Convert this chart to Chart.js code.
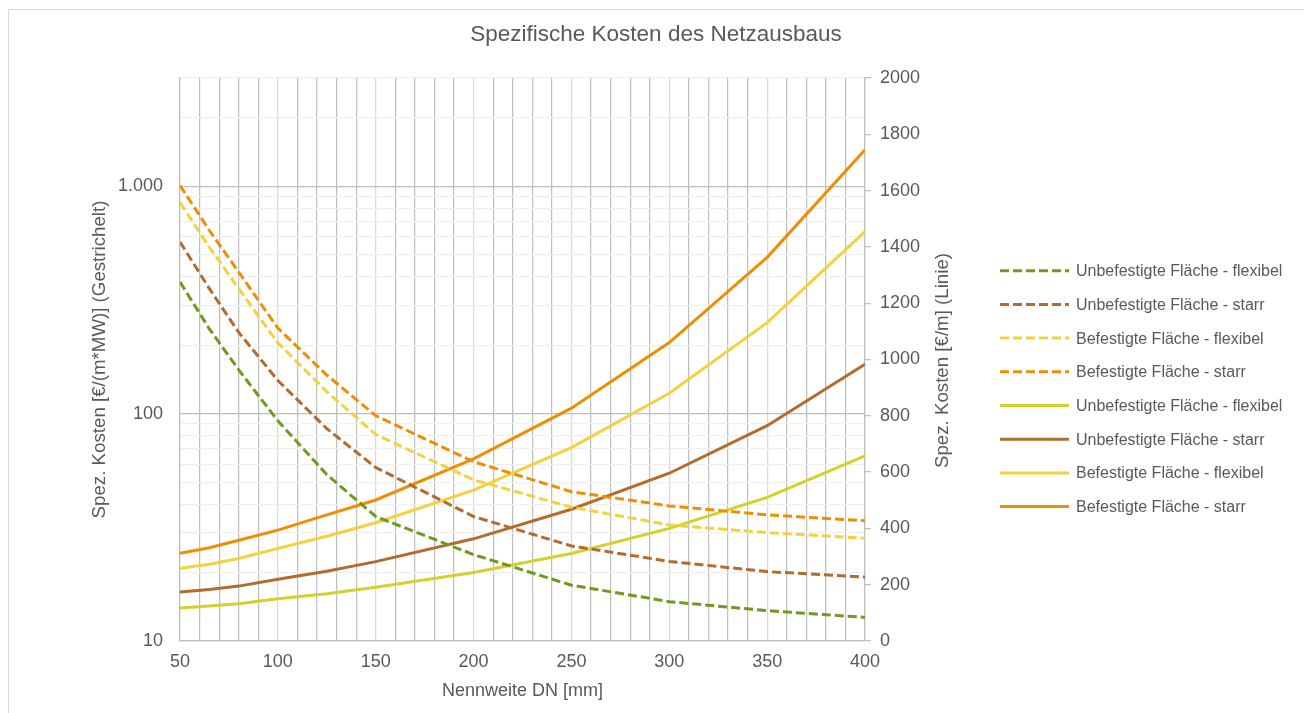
<!DOCTYPE html>
<html lang="de">
<head>
<meta charset="utf-8">
<title>Spezifische Kosten des Netzausbaus</title>
<script src="https://cdn.jsdelivr.net/npm/chart.js@4.4.1/dist/chart.umd.min.js"></script>
<style>
  html, body { margin: 0; padding: 0; background: #ffffff; }
  #wrap { width: 1304px; height: 713px; }
</style>
</head>
<body>
<div id="wrap"><canvas id="c" width="1304" height="713"></canvas></div>
<script>
// Nennweiten (x) in mm
const DN = [50, 65, 80, 100, 125, 150, 200, 250, 300, 350, 400];

// Spezifische Kosten je Leistung [€/(m*MW)] – gestrichelt, linke (log) Achse
const unbefFlexMW  = [380, 236, 156, 93, 54, 35.3, 24.0, 17.6, 14.9, 13.6, 12.7];
const unbefStarrMW = [570, 355, 228, 140, 86, 58, 35.3, 26.2, 22.4, 20.2, 19.1];
const befFlexMW    = [850, 540, 355, 205, 125, 81, 51.2, 38.8, 32.4, 30.0, 28.3];
const befStarrMW   = [1010, 640, 420, 238, 148, 98, 61.5, 45.4, 39.3, 35.9, 33.8];

// Spezifische Kosten je Meter [€/m] – Linie, rechte Achse
const unbefFlexM  = [117, 124, 132, 150, 168, 191, 243, 311, 400, 510, 658];
const unbefStarrM = [174, 183, 195, 219, 248, 282, 363, 468, 596, 765, 983];
const befFlexM    = [258, 273, 293, 329, 372, 420, 536, 687, 880, 1131, 1454];
const befStarrM   = [312, 331, 358, 394, 448, 501, 647, 827, 1060, 1363, 1745];

const seriesNames = [
  'Unbefestigte Fläche - flexibel',
  'Unbefestigte Fläche - starr',
  'Befestigte Fläche - flexibel',
  'Befestigte Fläche - starr'
];

// Achsenbeschriftungen
const logTicks = [10, 20, 30, 40, 50, 60, 70, 80, 90, 100, 200, 300, 400, 500, 600, 700, 800, 900, 1000, 2000, 3000];
const logLabels = { 10: '10', 100: '100', 1000: '1.000' };
const xTicks = [];
for (let v = 50; v <= 400; v += 10) xTicks.push(v);

const COL = {
  green: '#6f9a1f',
  brown: '#b26c2d',
  yellow: '#f3d23f',
  orange: '#ee8f03',
  lime: '#d5d12b'
};
const TEXT = '#595959';
const FONT = "'Liberation Sans', Arial, sans-serif";
const DASH = [9, 4];

const pts = (ys) => DN.map((x, i) => ({ x, y: ys[i] }));

function ds(label, values, color, dashed, axis) {
  return {
    label,
    data: pts(values),
    borderColor: color,
    backgroundColor: color,
    borderWidth: 3,
    borderDash: dashed ? DASH : [],
    pointRadius: 0,
    tension: 0,
    fill: false,
    yAxisID: axis
  };
}

const datasets = [
  ds(seriesNames[0], unbefFlexMW, COL.green, true, 'yL'),
  ds(seriesNames[1], unbefStarrMW, COL.brown, true, 'yL'),
  ds(seriesNames[2], befFlexMW, COL.yellow, true, 'yL'),
  ds(seriesNames[3], befStarrMW, COL.orange, true, 'yL'),
  ds(seriesNames[0], unbefFlexM, COL.lime, false, 'yR'),
  ds(seriesNames[1], unbefStarrM, COL.brown, false, 'yR'),
  ds(seriesNames[2], befFlexM, COL.yellow, false, 'yR'),
  ds(seriesNames[3], befStarrM, COL.orange, false, 'yR')
];

// Rahmen, Titel, Achsentitel und Legende
const decor = {
  id: 'decor',
  beforeDraw(chart) {
    const c = chart.ctx;
    c.save();
    c.fillStyle = '#ffffff';
    c.fillRect(0, 0, chart.width, chart.height);
    c.strokeStyle = '#d9d9d9';
    c.lineWidth = 1;
    c.strokeRect(8.5, 9.5, 1400, 800);
    c.restore();
  },
  afterDraw(chart) {
    const c = chart.ctx;
    const a = chart.chartArea;
    const midY = (a.top + a.bottom) / 2;
    c.save();
    c.fillStyle = TEXT;
    c.textBaseline = 'middle';

    c.font = `22.5px ${FONT}`;
    c.textAlign = 'center';
    c.fillText('Spezifische Kosten des Netzausbaus', 656, 35);

    c.font = `18px ${FONT}`;
    c.fillText('Nennweite DN [mm]', (a.left + a.right) / 2, 691);

    c.font = `18.7px ${FONT}`;
    c.save();
    c.translate(100, midY);
    c.rotate(-Math.PI / 2);
    c.fillText('Spez. Kosten [€/(m*MW)] (Gestrichelt)', 0, 0);
    c.restore();

    c.save();
    c.translate(943, midY + 1);
    c.rotate(-Math.PI / 2);
    c.fillText('Spez. Kosten [€/m] (Linie)', 0, 0);
    c.restore();

    // Legende
    const x0 = 1000, x1 = 1069, y0 = 270.7, step = 33.7;
    c.font = `16px ${FONT}`;
    c.textAlign = 'left';
    chart.data.datasets.forEach((d, i) => {
      const y = y0 + i * step;
      c.save();
      c.strokeStyle = d.borderColor;
      c.lineWidth = 3;
      c.setLineDash(d.borderDash || []);
      c.beginPath();
      c.moveTo(x0, y);
      c.lineTo(x1, y);
      c.stroke();
      c.restore();
      c.fillStyle = TEXT;
      c.fillText(d.label, 1076, y + 1);
    });
    c.restore();
  }
};

const tickFont = { family: FONT, size: 18 };

new Chart(document.getElementById('c'), {
  type: 'line',
  data: { datasets },
  options: {
    responsive: false,
    animation: false,
    events: [],
    layout: { padding: { left: 80, top: 78, right: 339, bottom: 0 } },
    plugins: {
      legend: { display: false },
      title: { display: false },
      tooltip: { enabled: false }
    },
    scales: {
      x: {
        type: 'linear',
        min: 50,
        max: 400,
        afterBuildTicks(s) { s.ticks = xTicks.map(v => ({ value: v })); },
        afterFit(s) { s.height = 72; },
        ticks: {
          autoSkip: false,
          maxRotation: 0,
          padding: 10,
          color: TEXT,
          font: tickFont,
          callback: (v) => (v % 50 === 0 ? String(v) : '')
        },
        grid: {
          drawTicks: false,
          lineWidth: 1.25,
          color: (ctx) => (ctx.tick && ctx.tick.value % 50 === 0 ? '#d9d9d9' : '#bfbfbf')
        },
        border: { color: '#bfbfbf', width: 1.25 }
      },
      yL: {
        type: 'logarithmic',
        position: 'left',
        min: 10,
        max: 3000,
        afterBuildTicks(s) { s.ticks = logTicks.map(v => ({ value: v, major: !!logLabels[v] })); },
        afterFit(s) { s.width = 100; },
        ticks: {
          autoSkip: false,
          padding: 17,
          color: TEXT,
          font: tickFont,
          callback: (v) => logLabels[v] || ''
        },
        grid: {
          drawTicks: false,
          lineWidth: 1.25,
          color: (ctx) => (ctx.tick && logLabels[ctx.tick.value] ? '#bfbfbf' : '#efefef')
        },
        border: { color: '#bfbfbf', width: 1.25 }
      },
      yR: {
        type: 'linear',
        position: 'right',
        min: 0,
        max: 2000,
        afterFit(s) { s.width = 100; },
        ticks: {
          stepSize: 200,
          padding: 9,
          color: TEXT,
          font: tickFont,
          callback: (v) => String(v)
        },
        grid: {
          drawOnChartArea: false,
          drawTicks: true,
          tickLength: 6,
          lineWidth: 1.25,
          color: '#bfbfbf'
        },
        border: { color: '#bfbfbf', width: 1.25 }
      }
    }
  },
  plugins: [decor]
});
</script>
</body>
</html>
